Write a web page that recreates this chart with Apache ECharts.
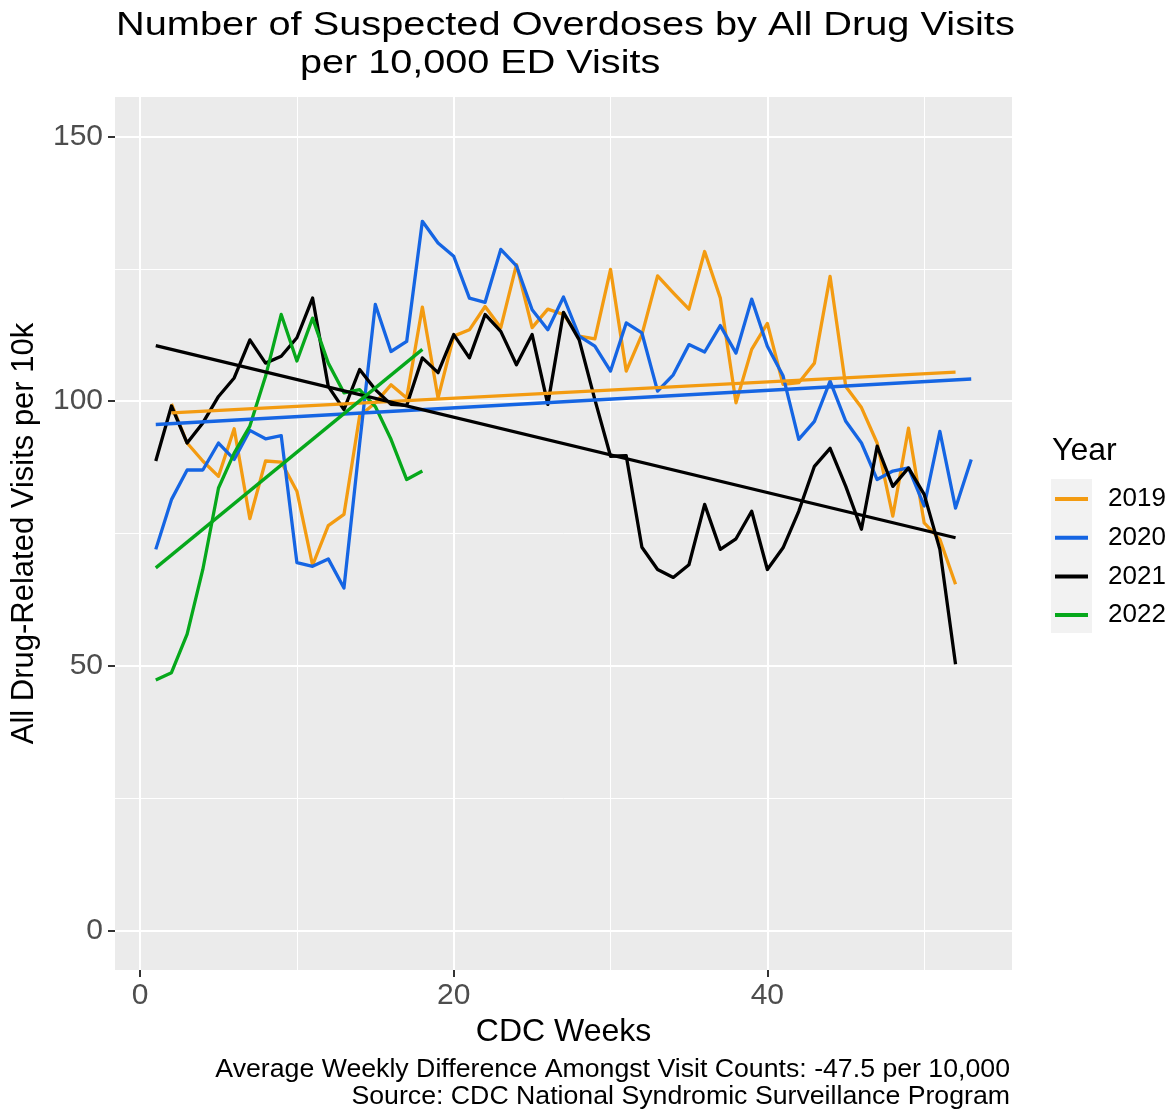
<!DOCTYPE html>
<html>
<head>
<meta charset="utf-8">
<script src="https://cdn.jsdelivr.net/npm/echarts@6/dist/echarts.min.js"></script>
<style>html,body{margin:0;padding:0;background:#fff;}#c{width:1172px;height:1111px;}</style>
</head>
<body>
<div id="c"></div>
<script>
// ---- data ----
const years = ['2019', '2020', '2021', '2022'];
const colors = ['#F39B11', '#1565E3', '#000000', '#06A81B'];

const weeks2019 = [2,3,4,5,6,7,8,9,10,11,12,13,14,15,16,17,18,19,20,21,22,23,24,25,26,27,28,29,30,31,32,33,34,35,36,37,38,39,40,41,42,43,44,45,46,47,48,49,50,51,52];
const values2019 = [99.5,92.1,88.7,85.8,94.8,77.8,88.7,88.5,83.0,69.0,76.5,78.6,97.2,99.7,103.1,100.6,117.8,100.6,112.3,113.5,117.9,113.9,125.8,113.9,117.4,116.4,112.3,111.8,124.9,105.7,112.6,123.7,120.5,117.4,128.3,119.5,99.7,109.8,114.7,103.2,103.5,107.2,123.6,102.8,98.8,92.1,78.3,94.9,77.0,73.9,65.4];

const weeks2020 = [1,2,3,4,5,6,7,8,9,10,11,12,13,14,15,16,17,18,19,20,21,22,23,24,25,26,27,28,29,30,31,32,33,34,35,36,37,38,39,40,41,42,43,44,45,46,47,48,49,50,51,52,53];
const values2020 = [72.0,81.4,87.0,87.0,92.1,89.0,94.5,92.9,93.5,69.5,68.8,70.2,64.7,92.0,118.3,109.4,111.3,134.0,129.9,127.4,119.5,118.7,128.7,125.6,117.3,113.5,119.7,112.3,110.4,105.7,114.8,112.9,101.9,105.0,110.7,109.3,114.3,109.1,119.3,110.4,104.8,92.8,96.2,103.8,96.2,92.1,85.2,86.8,87.4,80.2,94.3,79.8,89.0];

const weeks2021 = [1,2,3,4,5,6,7,8,9,10,11,12,13,14,15,16,17,18,19,20,21,22,23,24,25,26,27,28,29,30,31,32,33,34,35,36,37,38,39,40,41,42,43,44,45,46,47,48,49,50,51,52];
const values2021 = [88.7,99.1,92.1,95.9,100.9,104.4,111.6,107.2,108.5,112.0,119.5,102.8,98.4,106.0,102.2,99.4,99.2,108.2,105.4,112.6,108.2,116.4,113.2,106.9,112.6,99.4,116.8,111.6,100.3,89.6,89.7,72.4,68.2,66.7,69.1,80.5,72.0,74.0,79.2,68.2,72.3,79.2,87.7,91.1,83.9,75.8,91.5,83.9,87.4,82.4,72.0,50.3];

const weeks2022 = [1,2,3,4,5,6,7,8,9,10,11,12,13,14,15,16,17,18];
const values2022 = [47.3,48.7,56.0,68.2,83.6,90.2,95.3,104.7,116.4,107.6,115.7,107.2,101.6,102.2,99.0,92.8,85.2,86.8];

// linear trend lines (start / end)
const trendWeeks2019 = [2, 52];   const trendValues2019 = [97.8, 105.5];
const trendWeeks2020 = [1, 53];   const trendValues2020 = [95.6, 104.2];
const trendWeeks2021 = [1, 52];   const trendValues2021 = [110.5, 74.2];
const trendWeeks2022 = [1, 18];   const trendValues2022 = [68.5, 109.8];

const xMajorTicks = [0, 20, 40];
const xMinorTicks = [10, 30, 50];
const yMajorTicks = [0, 50, 100, 150];
const yMinorTicks = [25, 75, 125];

// ---- build ----
const weekSets = [weeks2019, weeks2020, weeks2021, weeks2022];
const valueSets = [values2019, values2020, values2021, values2022];
const trendW = [trendWeeks2019, trendWeeks2020, trendWeeks2021, trendWeeks2022];
const trendV = [trendValues2019, trendValues2020, trendValues2021, trendValues2022];
const pairs = (w, v) => w.map((x, i) => [x, v[i]]);

const LW = 3.3;
const series = [];
years.forEach((y, i) => {
  series.push({
    name: y, type: 'line', data: pairs(weekSets[i], valueSets[i]),
    showSymbol: false, symbol: 'none', xAxisIndex: 0, yAxisIndex: 0,
    lineStyle: { color: colors[i], width: LW, join: 'round', cap: 'butt' },
    itemStyle: { color: colors[i] }, z: 3, silent: true
  });
});
years.forEach((y, i) => {
  series.push({
    name: y, type: 'line', data: pairs(trendW[i], trendV[i]),
    showSymbol: false, symbol: 'none', xAxisIndex: 0, yAxisIndex: 0,
    lineStyle: { color: colors[i], width: LW, cap: 'butt' },
    itemStyle: { color: colors[i] }, z: 4, silent: true
  });
});

const FONT = '"Liberation Sans", Arial, sans-serif';
const XMIN = -1.6, XMAX = 55.6, YMIN = -7.5, YMAX = 157.5;

const chart = echarts.init(document.getElementById('c'), null, { renderer: 'canvas' });
chart.setOption({
  animation: false,
  backgroundColor: '#ffffff',
  textStyle: { fontFamily: FONT },
  grid: { left: 115, right: 160, top: 97, bottom: 141, show: true, backgroundColor: '#EBEBEB', borderWidth: 0, containLabel: false },
  legend: {
    data: years, orient: 'vertical', left: 1055, top: 484, padding: 0,
    icon: 'rect', itemWidth: 33, itemHeight: 4, itemGap: 8.7,
    textStyle: { fontFamily: FONT, fontSize: 26, color: '#000', lineHeight: 30, padding: [0, 0, 0, 15] },
    selectedMode: false
  },
  xAxis: [
    { type: 'value', min: XMIN, max: XMAX, position: 'bottom',
      name: 'CDC Weeks', nameLocation: 'middle', nameGap: 43,
      nameTextStyle: { fontFamily: FONT, fontSize: 32, color: '#000' },
      axisLine: { show: false, onZero: false },
      axisTick: { show: true, customValues: xMajorTicks, length: 7, lineStyle: { color: '#333333', width: 2 } },
      axisLabel: { customValues: xMajorTicks, fontFamily: FONT, fontSize: 30, color: '#4D4D4D', margin: 11 },
      splitLine: { show: true, lineStyle: { color: '#FFFFFF', width: 2 } } },
    { type: 'value', min: XMIN, max: XMAX, position: 'bottom',
      axisLine: { show: false, onZero: false },
      axisTick: { show: false, customValues: xMinorTicks },
      axisLabel: { show: false, customValues: xMinorTicks },
      splitLine: { show: true, lineStyle: { color: '#FFFFFF', width: 1 } } }
  ],
  yAxis: [
    { type: 'value', min: YMIN, max: YMAX, position: 'left',
      name: 'All Drug-Related Visits per 10k', nameLocation: 'middle', nameGap: 75, nameRotate: 90,
      nameTextStyle: { fontFamily: FONT, fontSize: 31, color: '#000' },
      axisLine: { show: false, onZero: false },
      axisTick: { show: true, customValues: yMajorTicks, length: 7, lineStyle: { color: '#333333', width: 2 } },
      axisLabel: { customValues: yMajorTicks, fontFamily: FONT, fontSize: 30, color: '#4D4D4D', margin: 12 },
      splitLine: { show: true, lineStyle: { color: '#FFFFFF', width: 2 } } },
    { type: 'value', min: YMIN, max: YMAX, position: 'left',
      axisLine: { show: false, onZero: false },
      axisTick: { show: false, customValues: yMinorTicks },
      axisLabel: { show: false, customValues: yMinorTicks },
      splitLine: { show: true, lineStyle: { color: '#FFFFFF', width: 1 } } }
  ],
  graphic: [
    { type: 'text', x: 116, y: 9, scaleX: 1.205, originX: 0, originY: 0,
      style: { text: 'Number of Suspected Overdoses by All Drug Visits', font: '33px ' + FONT, fill: '#000', textAlign: 'left', textVerticalAlign: 'top' }, silent: true },
    { type: 'text', x: 300, y: 47, scaleX: 1.2, originX: 0, originY: 0,
      style: { text: 'per 10,000 ED Visits', font: '33px ' + FONT, fill: '#000', textAlign: 'left', textVerticalAlign: 'top' }, silent: true },
    { type: 'rect', x: 1051, y: 479, shape: { width: 41, height: 154 }, style: { fill: '#F2F2F2' }, z: 0, silent: true },
    { type: 'text', x: 1052, y: 451, style: { text: 'Year', font: '32px ' + FONT, fill: '#000', textAlign: 'left', textVerticalAlign: 'middle' }, silent: true },
    { type: 'text', x: 1010, y: 1070, style: { text: 'Average Weekly Difference Amongst Visit Counts: -47.5 per 10,000', font: '26.7px ' + FONT, fill: '#000', textAlign: 'right', textVerticalAlign: 'middle' }, silent: true },
    { type: 'text', x: 1010, y: 1097, style: { text: 'Source: CDC National Syndromic Surveillance Program', font: '26.7px ' + FONT, fill: '#000', textAlign: 'right', textVerticalAlign: 'middle' }, silent: true }
  ],
  series: series
});
</script>
</body>
</html>
